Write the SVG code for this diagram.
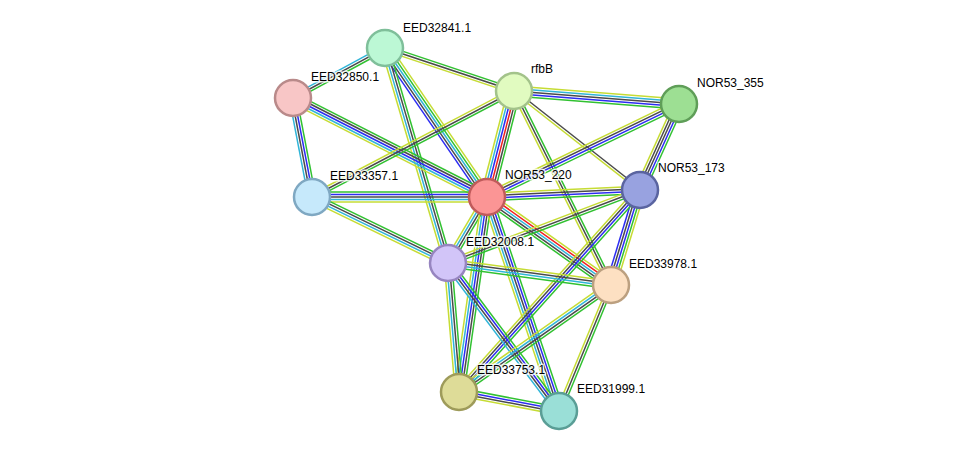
<svg xmlns="http://www.w3.org/2000/svg" width="976" height="456" viewBox="0 0 976 456">
<style>
line{stroke-width:1.5;fill:none}
.g{stroke:#31c131}.y{stroke:#c6dc34}.b{stroke:#2c2cf2}.k{stroke:#4a4a4a}.c{stroke:#30b5d8}.r{stroke:#f02020}
.n circle{stroke-width:2.5}
text{font-family:"Liberation Sans",Arial,sans-serif;font-size:12px;fill:#000;stroke:#fff;stroke-width:3px;stroke-opacity:0.8;paint-order:stroke;stroke-linejoin:round}
</style>
<rect width="976" height="456" fill="#fff"/>
<g id="edges">
<g transform="translate(293 98) rotate(-28.5)"><line class="c" x2="104.7" y1="-2.5" y2="-2.5"/><line class="k" x2="104.7"/><line class="g" x2="104.7" y1="2.5" y2="2.5"/></g>
<g transform="translate(385 48) rotate(18.43)"><line class="g" x2="136" y1="-2.5" y2="-2.5"/><line class="k" x2="136"/><line class="y" x2="136" y1="2.5" y2="2.5"/></g>
<g transform="translate(385 48) rotate(55.6)"><line class="y" x2="180.6" y1="-5" y2="-5"/><line class="g" x2="180.6" y1="-2.5" y2="-2.5"/><line class="c" x2="180.6"/><line class="k" x2="180.6" y1="2.5" y2="2.5"/><line class="b" x2="180.6" y1="5" y2="5"/></g>
<g transform="translate(385 48) rotate(73.67)"><line class="g" x2="224" y1="-3.75" y2="-3.75"/><line class="k" x2="224" y1="-1.25" y2="-1.25"/><line class="c" x2="224" y1="1.25" y2="1.25"/><line class="y" x2="224" y1="3.75" y2="3.75"/></g>
<g transform="translate(293 98) rotate(79.14)"><line class="g" x2="100.8" y1="-3.75" y2="-3.75"/><line class="b" x2="100.8" y1="-1.25" y2="-1.25"/><line class="k" x2="100.8" y1="1.25" y2="1.25"/><line class="c" x2="100.8" y1="3.75" y2="3.75"/></g>
<g transform="translate(293 98) rotate(27.03)"><line class="g" x2="217.8" y1="-5" y2="-5"/><line class="k" x2="217.8" y1="-2.5" y2="-2.5"/><line class="b" x2="217.8"/><line class="c" x2="217.8" y1="2.5" y2="2.5"/><line class="y" x2="217.8" y1="5" y2="5"/></g>
<g transform="translate(514 91) rotate(4.5)"><line class="y" x2="165.5" y1="-5" y2="-5"/><line class="c" x2="165.5" y1="-2.5" y2="-2.5"/><line class="k" x2="165.5"/><line class="b" x2="165.5" y1="2.5" y2="2.5"/><line class="g" x2="165.5" y1="5" y2="5"/></g>
<g transform="translate(514 91) rotate(104.29)"><line class="g" x2="109.4" y1="-6.25" y2="-6.25"/><line class="k" x2="109.4" y1="-3.75" y2="-3.75"/><line class="r" x2="109.4" y1="-1.25" y2="-1.25"/><line class="b" x2="109.4" y1="1.25" y2="1.25"/><line class="c" x2="109.4" y1="3.75" y2="3.75"/><line class="y" x2="109.4" y1="6.25" y2="6.25"/></g>
<g transform="translate(514 91) rotate(152.31)"><line class="g" x2="228.1" y1="-2.5" y2="-2.5"/><line class="k" x2="228.1"/><line class="y" x2="228.1" y1="2.5" y2="2.5"/></g>
<g transform="translate(514 91) rotate(38.16)"><line class="k" x2="160.2" y1="-1.25" y2="-1.25"/><line class="y" x2="160.2" y1="1.25" y2="1.25"/></g>
<g transform="translate(514 91) rotate(63.43)"><line class="g" x2="216.9" y1="-2.5" y2="-2.5"/><line class="k" x2="216.9"/><line class="y" x2="216.9" y1="2.5" y2="2.5"/></g>
<g transform="translate(679 104) rotate(154.16)"><line class="g" x2="213.3" y1="-3.75" y2="-3.75"/><line class="b" x2="213.3" y1="-1.25" y2="-1.25"/><line class="k" x2="213.3" y1="1.25" y2="1.25"/><line class="y" x2="213.3" y1="3.75" y2="3.75"/></g>
<g transform="translate(679 104) rotate(114.39)"><line class="g" x2="94.4" y1="-5" y2="-5"/><line class="b" x2="94.4" y1="-2.5" y2="-2.5"/><line class="k" x2="94.4"/><line class="k" x2="94.4" y1="2.5" y2="2.5"/><line class="y" x2="94.4" y1="5" y2="5"/></g>
<g transform="translate(312 197)"><line class="g" x2="175" y1="-5" y2="-5"/><line class="b" x2="175" y1="-2.5" y2="-2.5"/><line class="k" x2="175"/><line class="c" x2="175" y1="2.5" y2="2.5"/><line class="y" x2="175" y1="5" y2="5"/></g>
<g transform="translate(312 197) rotate(25.89)"><line class="g" x2="151.2" y1="-3.75" y2="-3.75"/><line class="k" x2="151.2" y1="-1.25" y2="-1.25"/><line class="c" x2="151.2" y1="1.25" y2="1.25"/><line class="y" x2="151.2" y1="3.75" y2="3.75"/></g>
<g transform="translate(487 197) rotate(-2.62)"><line class="y" x2="153.2" y1="-3.75" y2="-3.75"/><line class="k" x2="153.2" y1="-1.25" y2="-1.25"/><line class="b" x2="153.2" y1="1.25" y2="1.25"/><line class="g" x2="153.2" y1="3.75" y2="3.75"/></g>
<g transform="translate(487 197) rotate(120.58)"><line class="g" x2="76.7" y1="-3.75" y2="-3.75"/><line class="k" x2="76.7" y1="-1.25" y2="-1.25"/><line class="c" x2="76.7" y1="1.25" y2="1.25"/><line class="y" x2="76.7" y1="3.75" y2="3.75"/></g>
<g transform="translate(487 197) rotate(35.36)"><line class="y" x2="152.1" y1="-5" y2="-5"/><line class="r" x2="152.1" y1="-2.5" y2="-2.5"/><line class="c" x2="152.1"/><line class="k" x2="152.1" y1="2.5" y2="2.5"/><line class="g" x2="152.1" y1="5" y2="5"/></g>
<g transform="translate(487 197) rotate(98.17)"><line class="g" x2="197" y1="-5" y2="-5"/><line class="k" x2="197" y1="-2.5" y2="-2.5"/><line class="b" x2="197"/><line class="c" x2="197" y1="2.5" y2="2.5"/><line class="y" x2="197" y1="5" y2="5"/></g>
<g transform="translate(487 197) rotate(71.41)"><line class="g" x2="225.8" y1="-5" y2="-5"/><line class="b" x2="225.8" y1="-2.5" y2="-2.5"/><line class="k" x2="225.8"/><line class="c" x2="225.8" y1="2.5" y2="2.5"/><line class="y" x2="225.8" y1="5" y2="5"/></g>
<g transform="translate(640 190) rotate(159.18)"><line class="g" x2="205.4" y1="-2.5" y2="-2.5"/><line class="k" x2="205.4"/><line class="y" x2="205.4" y1="2.5" y2="2.5"/></g>
<g transform="translate(640 190) rotate(106.98)"><line class="y" x2="99.3" y1="-5" y2="-5"/><line class="g" x2="99.3" y1="-2.5" y2="-2.5"/><line class="b" x2="99.3"/><line class="k" x2="99.3" y1="2.5" y2="2.5"/><line class="b" x2="99.3" y1="5" y2="5"/></g>
<g transform="translate(640 190) rotate(131.86)"><line class="g" x2="271.2" y1="-3.75" y2="-3.75"/><line class="b" x2="271.2" y1="-1.25" y2="-1.25"/><line class="k" x2="271.2" y1="1.25" y2="1.25"/><line class="y" x2="271.2" y1="3.75" y2="3.75"/></g>
<g transform="translate(448 263) rotate(7.69)"><line class="y" x2="164.5" y1="-3.75" y2="-3.75"/><line class="k" x2="164.5" y1="-1.25" y2="-1.25"/><line class="c" x2="164.5" y1="1.25" y2="1.25"/><line class="g" x2="164.5" y1="3.75" y2="3.75"/></g>
<g transform="translate(448 263) rotate(85.13)"><line class="g" x2="129.5" y1="-3.75" y2="-3.75"/><line class="k" x2="129.5" y1="-1.25" y2="-1.25"/><line class="c" x2="129.5" y1="1.25" y2="1.25"/><line class="y" x2="129.5" y1="3.75" y2="3.75"/></g>
<g transform="translate(448 263) rotate(53.13)"><line class="g" x2="185" y1="-3.75" y2="-3.75"/><line class="b" x2="185" y1="-1.25" y2="-1.25"/><line class="k" x2="185" y1="1.25" y2="1.25"/><line class="c" x2="185" y1="3.75" y2="3.75"/></g>
<g transform="translate(611 285) rotate(144.86)"><line class="g" x2="185.9" y1="-3.75" y2="-3.75"/><line class="k" x2="185.9" y1="-1.25" y2="-1.25"/><line class="c" x2="185.9" y1="1.25" y2="1.25"/><line class="y" x2="185.9" y1="3.75" y2="3.75"/></g>
<g transform="translate(611 285) rotate(112.43)"><line class="g" x2="136.3" y1="-2.5" y2="-2.5"/><line class="k" x2="136.3"/><line class="y" x2="136.3" y1="2.5" y2="2.5"/></g>
<g transform="translate(459 392) rotate(10.76)"><line class="g" x2="101.8" y1="-3.75" y2="-3.75"/><line class="b" x2="101.8" y1="-1.25" y2="-1.25"/><line class="k" x2="101.8" y1="1.25" y2="1.25"/><line class="y" x2="101.8" y1="3.75" y2="3.75"/></g>
</g>
<g id="EED32841.1" class="n"><circle cx="385" cy="48" r="18" fill="#bcf8d5" stroke="#7fbf9a"/><text x="403" y="32">EED32841.1</text></g>
<g id="rfbB" class="n"><circle cx="514" cy="91" r="18" fill="#e1fbc0" stroke="#a3c38a"/><text x="531" y="73">rfbB</text></g>
<g id="EED32850.1" class="n"><circle cx="293" cy="98" r="18" fill="#f8c6c6" stroke="#b98a8a"/><text x="311" y="81">EED32850.1</text></g>
<g id="NOR53_355" class="n"><circle cx="679" cy="104" r="18" fill="#9ddf93" stroke="#5f9e58"/><text x="697" y="87">NOR53_355</text></g>
<g id="EED33357.1" class="n"><circle cx="312" cy="197" r="18" fill="#c6e9fb" stroke="#7fa8c2"/><text x="330" y="180">EED33357.1</text></g>
<g id="NOR53_220" class="n"><circle cx="487" cy="197" r="18" fill="#fb9595" stroke="#c05b5b"/><text x="505" y="179">NOR53_220</text></g>
<g id="NOR53_173" class="n"><circle cx="640" cy="190" r="18" fill="#98a2e0" stroke="#5a64a0"/><text x="658" y="172">NOR53_173</text></g>
<g id="EED32008.1" class="n"><circle cx="448" cy="263" r="18" fill="#d2c5f8" stroke="#9785c0"/><text x="466" y="246">EED32008.1</text></g>
<g id="EED33978.1" class="n"><circle cx="611" cy="285" r="18" fill="#fde0c2" stroke="#bca080"/><text x="629" y="268">EED33978.1</text></g>
<g id="EED33753.1" class="n"><circle cx="459" cy="392" r="18" fill="#dedc98" stroke="#9e9b5a"/><text x="477" y="374">EED33753.1</text></g>
<g id="EED31999.1" class="n"><circle cx="559" cy="411" r="18" fill="#9adfd7" stroke="#5a9e96"/><text x="577" y="393">EED31999.1</text></g>
</svg>
